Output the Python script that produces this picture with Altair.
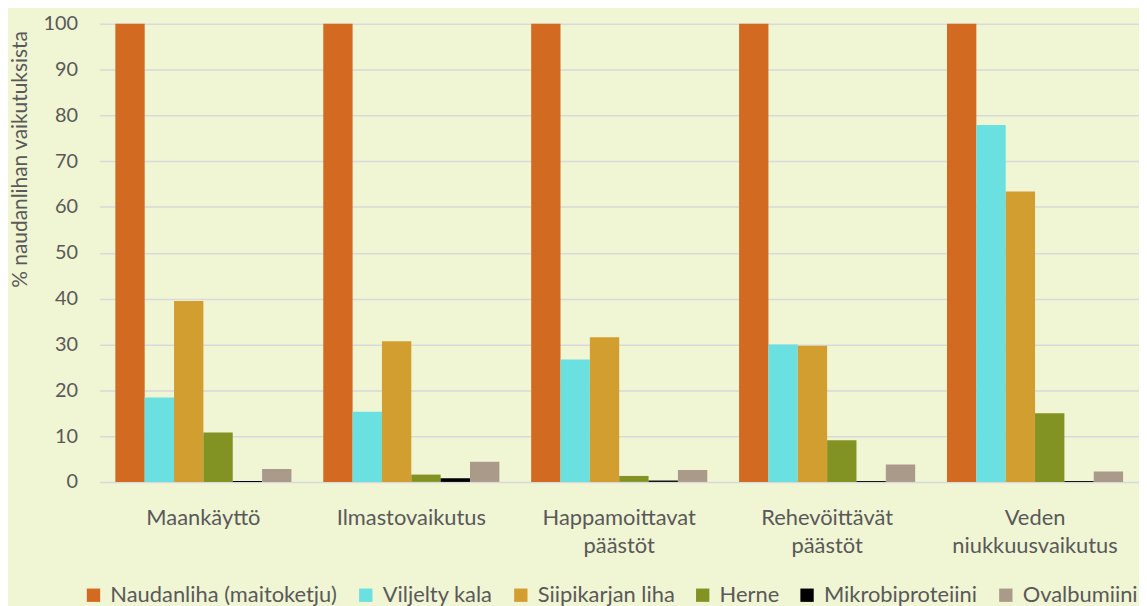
import altair as alt
import pandas as pd

categories = ["Maankäyttö", "Ilmastovaikutus", "Happamoittavat|päästöt", "Rehevöittävät|päästöt", "Veden|niukkuusvaikutus"]
series = ["Naudanliha (maitoketju)", "Viljelty kala", "Siipikarjan liha", "Herne", "Mikrobiproteiini", "Ovalbumiini"]
colors = ["#D36A21", "#6BE0E0", "#D39E30", "#839323", "#000000", "#AA9A8A"]

naudanliha = [100, 100, 100, 100, 100]
viljelty_kala = [18.4, 15.3, 26.7, 30.0, 77.9]
siipikarja = [39.5, 30.7, 31.6, 29.7, 63.4]
herne = [10.8, 1.6, 1.3, 9.1, 15.0]
mikrobi = [0.2, 0.8, 0.3, 0.2, 0.2]
ovalbumiini = [2.8, 4.4, 2.6, 3.8, 2.3]

values = [naudanliha, viljelty_kala, siipikarja, herne, mikrobi, ovalbumiini]
rows = []
for s, vals in zip(series, values):
    for c, v in zip(categories, vals):
        rows.append({"kategoria": c, "sarja": s, "arvo": v})
df = pd.DataFrame(rows)

FONT = "Lato"
GREY = "#595959"

chart = alt.Chart(df).mark_bar().encode(
    x=alt.X("kategoria:N", sort=categories,
            scale=alt.Scale(paddingInner=0.153, paddingOuter=0.0765),
            axis=alt.Axis(title=None, labelAngle=0, ticks=False, domain=False,
                          labelExpr="split(datum.label, '|')",
                          labelFont=FONT, labelFontSize=22, labelColor=GREY,
                          labelPadding=26, labelLineHeight=28)),
    xOffset=alt.XOffset("sarja:N", sort=series, scale=alt.Scale(paddingInner=0, paddingOuter=0)),
    y=alt.Y("arvo:Q", scale=alt.Scale(domain=[0, 100]),
            axis=alt.Axis(title="% naudanlihan vaikutuksista", values=list(range(0, 101, 10)),
                          ticks=False, domain=False, grid=True, gridColor="#D9D9D9", gridWidth=1.5,
                          labelFont=FONT, labelFontSize=20, labelColor=GREY, labelPadding=22,
                          titleFont=FONT, titleFontSize=21, titleColor=GREY, titleFontWeight="normal",
                          titleX=-69, titleY=136, titleAngle=-90)),
    color=alt.Color("sarja:N", sort=series,
                    scale=alt.Scale(domain=series, range=colors),
                    legend=alt.Legend(title=None, orient="none", direction="horizontal", columns=6,
                                      legendX=-17, legendY=564,
                                      symbolType="square", symbolSize=180, symbolStrokeWidth=0,
                                      symbolOpacity=1,
                                      labelFont=FONT, labelFontSize=22, labelColor=GREY,
                                      labelOffset=6, columnPadding=17, labelLimit=400)),
).properties(
    width=1046, height=461,
    autosize=alt.AutoSizeParams(type="none"),
    padding={"left": 92, "top": 14, "right": 0, "bottom": 123},
    background="#F0F5D4",
).configure_view(stroke=None)

chart.save("out.html", embed_options={"renderer": "svg", "actions": False})
